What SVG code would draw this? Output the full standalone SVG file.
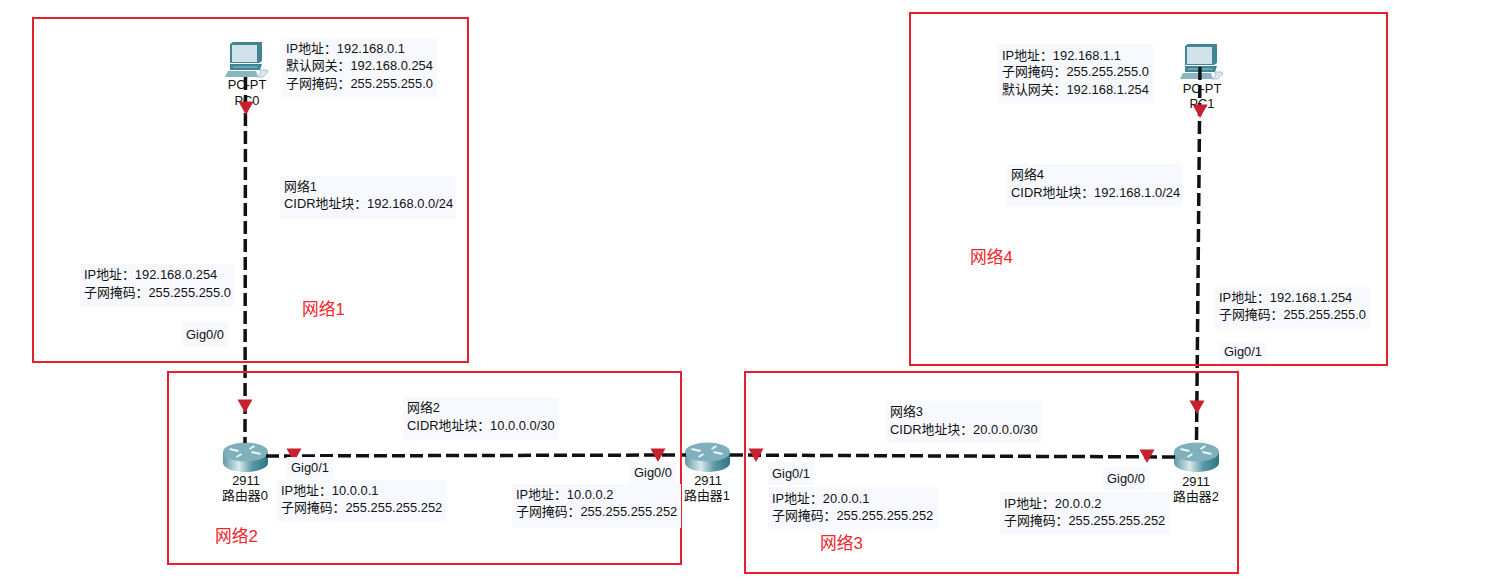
<svg xmlns="http://www.w3.org/2000/svg" width="1489" height="588" viewBox="0 0 1489 588">
<style>
text{font-family:"Liberation Sans","Noto Sans CJK SC",sans-serif;font-size:12.900px;fill:#111}
.bg{fill:#f8f9ff}
.zone{fill:none;stroke:#e8202c;stroke-width:2}
.net{font-size:16.800px;fill:#f0282e}
.c{text-anchor:middle}
.link{stroke:#111;stroke-width:3.500;stroke-dasharray:13 5;fill:none}
.tri{fill:#c9202f}
</style>
<defs>
<linearGradient id="rside" x1="0" x2="1" y1="0" y2="0"><stop offset="0" stop-color="#5f9aa6"/><stop offset=".35" stop-color="#d8e9ec"/><stop offset=".65" stop-color="#5d98a5"/><stop offset="1" stop-color="#2f7484"/></linearGradient>
<g id="router">
<path d="M-22.500,-5V6C-22.500,11 -12,15 0,15S22.500,11 22.500,6V-5Z" fill="url(#rside)"/>
<ellipse cx="0" cy="-5" rx="22.500" ry="9.500" fill="#7fb0bc"/>
<path d="M-16,-8l9,2M15,-3l-9,-2M-9,0l5,-3M9,-11l-5,3" stroke="#eef6f8" stroke-width="2" fill="none"/>
</g>
<g id="pc">
<path d="M-14,-22L-11,-24H18V-5L15,-3H-14Z" fill="#3f8596"/>
<rect x="-12" y="-21" width="25" height="17" fill="#d2e2ea"/>
<path d="M-14,-2H18L16,4H-14Z" fill="#3f8596"/>
<path d="M-11,0H13L14,2H-11Z" fill="#6ea4b2"/>
<path d="M-16,5H12L14,11H-19Z" fill="#8ab6c2"/>
<path d="M16,4h7l1,2l-5,5h-6l4,-4z" fill="#dbe8ec" stroke="#8ab6c2" stroke-width=".7"/>
</g>
<path id="arrow" class="tri" d="M-7.500,-6.500H7.500L0,7Z"/>
</defs>
<g id="PC0"><use href="#pc" x="244" y="66"/><text class="c" x="247" y="89">PC-PT</text><text class="c" x="247" y="105">PC0</text></g>
<g id="PC1"><use href="#pc" x="1199" y="68"/><text class="c" x="1202" y="93">PC-PT</text><text class="c" x="1202" y="108">PC1</text></g>
<g id="router0"><use href="#router" x="245.500" y="457"/><text class="c" x="246" y="485">2911</text><text class="c" x="245" y="500">路由器0</text></g>
<g id="router1"><use href="#router" x="707.500" y="457"/><text class="c" x="708" y="485">2911</text><text class="c" x="707" y="500">路由器1</text></g>
<g id="router2"><use href="#router" x="1196.500" y="457"/><text class="c" x="1196" y="486">2911</text><text class="c" x="1196" y="501">路由器2</text></g>
<g id="connectors">
<path class="link" d="M245.500,77L245,443"/>
<path class="link" d="M1200,67L1196.500,443"/>
<path class="link" d="M266,456L686,455"/>
<path class="link" d="M730,455L1175,457"/>
<use href="#arrow" x="246" y="108"/>
<use href="#arrow" x="245" y="406"/>
<use href="#arrow" x="294" y="455"/>
<use href="#arrow" x="658" y="455"/>
<use href="#arrow" x="756" y="455"/>
<use href="#arrow" x="1147" y="456"/>
<use href="#arrow" x="1197" y="407"/>
<use href="#arrow" x="1200" y="111"/>
</g>
<g id="zones">
<rect class="zone" x="33" y="18" width="435" height="344"/>
<rect class="zone" x="168" y="372" width="513" height="192"/>
<rect class="zone" x="745" y="372" width="493" height="201"/>
<rect class="zone" x="910" y="13" width="477" height="352"/>
<text class="net" x="302" y="315">网络1</text>
<text class="net" x="215" y="542">网络2</text>
<text class="net" x="820" y="549">网络3</text>
<text class="net" x="970" y="263">网络4</text>
</g>
<g id="label-pc0"><rect class="bg" x="282" y="38" width="155" height="59"/><text x="286" y="53">IP地址：192.168.0.1</text><text x="286" y="70">默认网关：192.168.0.254</text><text x="286" y="88">子网掩码：255.255.255.0</text></g>
<g id="label-net1"><rect class="bg" x="280" y="176" width="176" height="43"/><text x="284" y="191">网络1</text><text x="284" y="208">CIDR地址块：192.168.0.0/24</text></g>
<g id="label-r0g0"><rect class="bg" x="80" y="264" width="154" height="43"/><text x="84" y="279">IP地址：192.168.0.254</text><text x="84" y="297">子网掩码：255.255.255.0</text></g>
<g id="label-gig00a"><rect class="bg" x="182" y="322" width="46" height="25"/><text x="186" y="339">Gig0/0</text></g>
<g id="label-net2"><rect class="bg" x="403" y="397" width="155" height="43"/><text x="407" y="412">网络2</text><text x="407" y="430">CIDR地址块：10.0.0.0/30</text></g>
<g id="label-gig01a"><rect class="bg" x="287" y="457" width="46" height="22"/><text x="291" y="472">Gig0/1</text></g>
<g id="label-r0g1"><rect class="bg" x="277" y="480" width="169" height="42"/><text x="281" y="495">IP地址：10.0.0.1</text><text x="281" y="512">子网掩码：255.255.255.252</text></g>
<g id="label-gig00b"><rect class="bg" x="630" y="462" width="46" height="22"/><text x="634" y="477">Gig0/0</text></g>
<g id="label-r1g0"><rect class="bg" x="512" y="484" width="169" height="44"/><text x="516" y="499">IP地址：10.0.0.2</text><text x="516" y="516">子网掩码：255.255.255.252</text></g>
<g id="label-gig01b"><rect class="bg" x="768" y="462" width="46" height="23"/><text x="772" y="478">Gig0/1</text></g>
<g id="label-r1g1"><rect class="bg" x="768" y="487" width="170" height="42"/><text x="772" y="503">IP地址：20.0.0.1</text><text x="772" y="520">子网掩码：255.255.255.252</text></g>
<g id="label-net3"><rect class="bg" x="886" y="401" width="155" height="42"/><text x="890" y="416">网络3</text><text x="890" y="434">CIDR地址块：20.0.0.0/30</text></g>
<g id="label-gig00c"><rect class="bg" x="1103" y="467" width="46" height="23"/><text x="1107" y="483">Gig0/0</text></g>
<g id="label-r2g0"><rect class="bg" x="1000" y="492" width="169" height="42"/><text x="1004" y="508">IP地址：20.0.0.2</text><text x="1004" y="525">子网掩码：255.255.255.252</text></g>
<g id="label-pc1"><rect class="bg" x="998" y="44" width="155" height="59"/><text x="1002" y="60">IP地址：192.168.1.1</text><text x="1002" y="76">子网掩码：255.255.255.0</text><text x="1002" y="94">默认网关：192.168.1.254</text></g>
<g id="label-net4"><rect class="bg" x="1007" y="164" width="175" height="42"/><text x="1011" y="179">网络4</text><text x="1011" y="197">CIDR地址块：192.168.1.0/24</text></g>
<g id="label-r2g1"><rect class="bg" x="1215" y="287" width="155" height="42"/><text x="1219" y="302">IP地址：192.168.1.254</text><text x="1219" y="319">子网掩码：255.255.255.0</text></g>
<g id="label-gig01c"><rect class="bg" x="1220" y="342" width="46" height="22"/><text x="1224" y="356">Gig0/1</text></g>
</svg>
